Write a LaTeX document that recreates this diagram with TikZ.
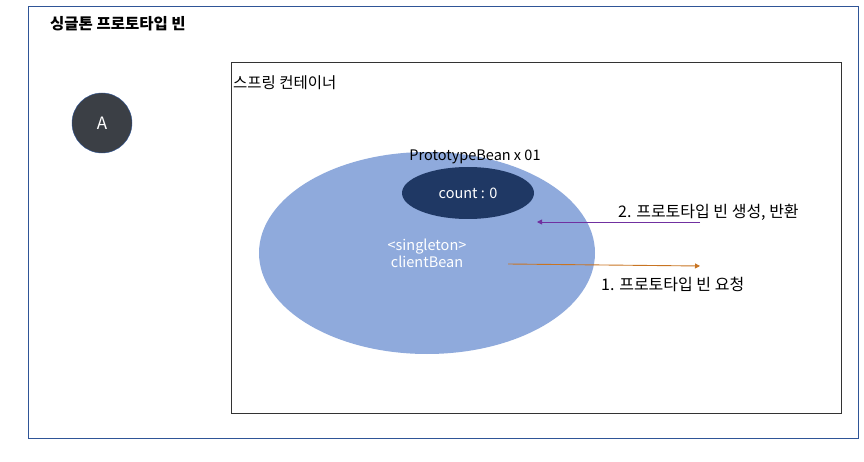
\documentclass[tikz,border=0pt]{standalone}
\usepackage{fontspec}
\setmainfont{Noto Sans CJK KR}
\usetikzlibrary{arrows.meta,positioning,shapes.geometric}
\definecolor{sgFrame}{HTML}{2F5597}
\definecolor{sgInk}{HTML}{000000}
\definecolor{sgDark}{HTML}{3B3F45}
\definecolor{sgLight}{HTML}{8FAADC}
\definecolor{sgNavy}{HTML}{1F3864}
\definecolor{sgPurple}{HTML}{7030A0}
\definecolor{sgOrange}{HTML}{C87422}
\tikzset{
  frame/.style={draw=sgFrame,thin},
  bean/.style={ellipse,draw=none,inner sep=0pt,align=center,text=white,
               font=\fontsize{14.5}{17}\selectfont},
  txt/.style={inner sep=0pt,font=\fontsize{16}{18}\selectfont,text=sgInk},
  req/.style={-{Triangle[length=5pt,width=5pt]},draw=sgOrange,line width=0.9pt},
  ret/.style={-{Triangle[length=5pt,width=5pt]},draw=sgPurple,line width=0.9pt},
}

\begin{document}
\begin{tikzpicture}[x=1pt,y=-1pt]
        \useasboundingbox (0,0) rectangle (864,462);
        \draw[frame] (28,6) rectangle (858,438);
        \node[txt,anchor=west,font=\fontsize{15.5}{18}\selectfont\bfseries] (title) at (50,24) {싱글톤 프로토타입 빈};
        \node[circle,fill=sgDark,draw=sgFrame,minimum size=60pt,inner sep=0pt,
              text=white,font=\fontsize{17}{19}\selectfont] (a) at (102,123) {A};
        \draw[draw=sgInk!80,thin] (231,62) rectangle (841,413);
        \node[txt,anchor=west,font=\fontsize{15.5}{18}\selectfont] (ctr) at (233,83) {스프링 컨테이너};
        \node[bean,fill=sgLight,minimum width=336pt,minimum height=202pt] (client) at (427,253) {};
        \node[bean] (clientlbl) at (427,253) {<singleton>\\clientBean};
        \node[bean,fill=sgNavy,minimum width=132pt,minimum height=52pt] (proto) at (468,193) {count : 0};
        \node[txt,font=\fontsize{14.5}{17}\selectfont] (protolbl) at (475,157) {PrototypeBean x 01};
        \coordinate (reqs) at (508,264);
        \coordinate (reqe) at (700,266);
        \coordinate (rets) at (700,222);
        \coordinate (rete) at (537,222);
        \draw[req] (reqs) -- (reqe);
        \draw[ret] (rets) -- (rete);
        \node[txt,anchor=west] (reqlbl) at (601,284) {1. 프로토타입 빈 요청};
        \node[txt,anchor=west] (retlbl) at (618,212) {2. 프로토타입 빈 생성, 반환};
      \end{tikzpicture}
\end{document}
